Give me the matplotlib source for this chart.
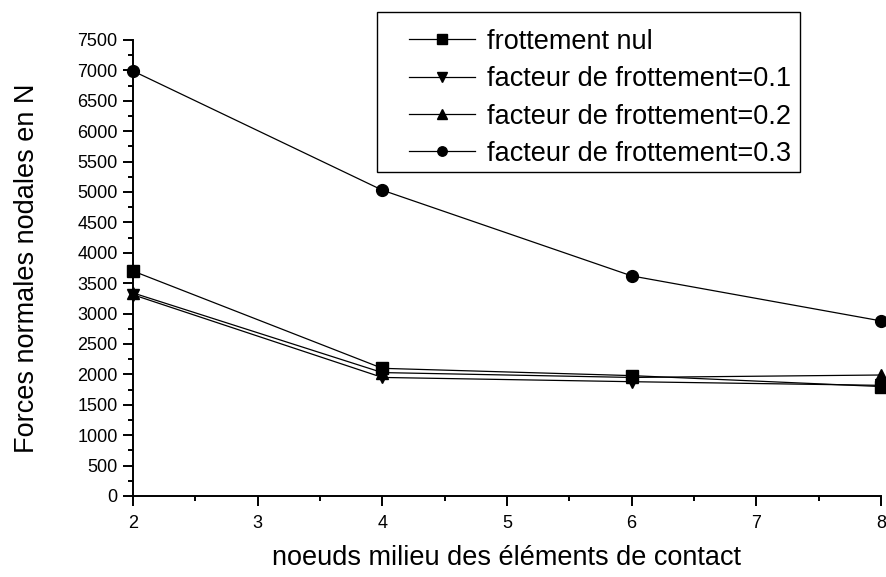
import matplotlib
matplotlib.use("Agg")
import matplotlib.pyplot as plt
from matplotlib.ticker import MultipleLocator
from matplotlib.patches import Rectangle

plt.rcParams["font.family"] = ["Liberation Sans", "DejaVu Sans"]

# noeuds milieu (abscisse) et forces normales nodales (N)
noeuds = [2, 4, 6, 8]
f_nul = [3700, 2100, 1980, 1800]
f_01 = [3310, 1950, 1880, 1820]
f_02 = [3340, 2030, 1950, 1990]
f_03 = [6990, 5030, 3620, 2880]

labels = ["frottement nul", "facteur de frottement=0.1",
          "facteur de frottement=0.2", "facteur de frottement=0.3"]

W, H = 887, 577
fig = plt.figure(figsize=(W / 100, H / 100), dpi=100)
ax = fig.add_axes([133 / W, 1 - 496 / H, (881 - 133) / W, (496 - 40) / H])

series = [(f_nul, "s"), (f_01, "v"), (f_02, "^"), (f_03, "o")]
for (vals, mk), lab in zip(series, labels):
    ax.plot(noeuds, vals, color="black", lw=0.9, marker=mk, ms=8.5,
            label=lab, clip_on=False, zorder=3)

ax.set_xlim(2, 8)
ax.set_ylim(0, 7500)
ax.xaxis.set_major_locator(MultipleLocator(1))
ax.xaxis.set_minor_locator(MultipleLocator(0.5))
ax.yaxis.set_major_locator(MultipleLocator(500))
ax.yaxis.set_minor_locator(MultipleLocator(250))

for side in ["top", "right"]:
    ax.spines[side].set_visible(False)
for side in ["left", "bottom"]:
    ax.spines[side].set_linewidth(1.4)

ax.tick_params(which="major", direction="out", length=7, width=1.4,
               labelsize=13, pad=4)
ax.tick_params(which="minor", direction="out", length=3.5, width=1.4)
ax.tick_params(axis="x", which="major", pad=7)

ax.set_xlabel("noeuds milieu des éléments de contact", fontsize=19.5, labelpad=9)
ax.set_ylabel("Forces normales nodales en N", fontsize=19.5, labelpad=27)

# legende sans cadre, cadre dessine a part
leg = ax.legend(loc="upper left", bbox_to_anchor=(398 / W, 1 - 18 / H),
                bbox_transform=fig.transFigure, borderaxespad=0,
                fontsize=19.5, frameon=False, markerscale=0.8,
                handlelength=2.45, handletextpad=0.45, labelspacing=0.42,
                borderpad=0.4)
fig.patches.append(Rectangle((377 / W, 1 - 172 / H), (800 - 377) / W, 160 / H,
                             transform=fig.transFigure, fill=False,
                             edgecolor="black", lw=1.0))

fig.savefig("out.png", dpi=100)
